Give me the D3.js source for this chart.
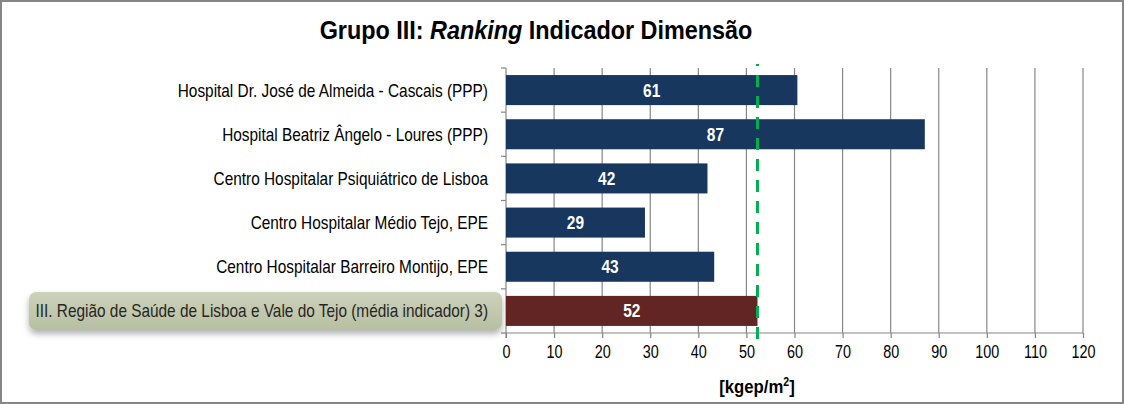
<!DOCTYPE html>
<html>
<head>
<meta charset="utf-8">
<script src="https://cdn.jsdelivr.net/npm/d3@7"></script>
<style>
html,body{margin:0;padding:0;background:#fff;}
svg{display:block;}
text{font-family:"Liberation Sans Narrow","Arial Narrow","Liberation Sans",Arial,sans-serif;}
</style>
</head>
<body>
<script>
const categories = [
  "Hospital Dr. José de Almeida - Cascais (PPP)",
  "Hospital Beatriz Ângelo - Loures (PPP)",
  "Centro Hospitalar Psiquiátrico de Lisboa",
  "Centro Hospitalar Médio Tejo, EPE",
  "Centro Hospitalar Barreiro Montijo, EPE",
  "III. Região de Saúde de Lisboa e Vale do Tejo (média indicador) 3)"
];
const values = [60.6, 87.1, 41.9, 28.9, 43.3, 52.3];
const valueLabels = ["61", "87", "42", "29", "43", "52"];
const averageValue = 52.3;
const xTicks = [0,10,20,30,40,50,60,70,80,90,100,110,120];
const titleParts = ["Grupo III: ", "Ranking", " Indicador Dimensão"];
const axisTitle = ["[kgep/m", "2", "]"];

(function(){
const W = 1124, H = 404;
const pL = 506, pR = 1083, pT = 68, pB = 333;

// horizontal condensing to mimic a narrow typeface
function condense(sel, k){
  sel.each(function(){
    const el = d3.select(this);
    const tx = +el.attr("x") || 0, ty = +el.attr("y") || 0;
    el.attr("transform", `translate(${tx},${ty}) scale(${k},1) translate(${-tx},${-ty})`);
  });
}

const svg = d3.select("body").append("svg").attr("width", W).attr("height", H);

const defs = svg.append("defs");
const grad = defs.append("linearGradient").attr("id","lblGrad").attr("x1",0).attr("y1",0).attr("x2",0).attr("y2",1);
grad.append("stop").attr("offset","0%").attr("stop-color","#cdd2bb");
grad.append("stop").attr("offset","100%").attr("stop-color","#b7bfa2");
const f = defs.append("filter").attr("id","shadow").attr("x","-5%").attr("y","-30%").attr("width","110%").attr("height","180%");
f.append("feDropShadow").attr("dx",0).attr("dy",4).attr("stdDeviation",3).attr("flood-color","#000").attr("flood-opacity",0.3);

// border
svg.append("rect").attr("x",1).attr("y",1).attr("width",W-2).attr("height",H-2)
  .attr("fill","none").attr("stroke","#868686").attr("stroke-width",2);

const x = d3.scaleLinear().domain([0,120]).range([pL,pR]);
const y = d3.scaleBand().domain(categories).range([pT,pB]).paddingInner(0.32).paddingOuter(0.16);

// title
const t = svg.append("text").attr("x", 536).attr("y", 39).attr("text-anchor","middle")
  .style("font-size","26px").style("font-weight","bold").attr("fill","#000");
t.append("tspan").text(titleParts[0]);
t.append("tspan").style("font-style","italic").text(titleParts[1]);
t.append("tspan").text(titleParts[2]);
condense(t, 0.9);

// grid lines
svg.append("g").selectAll("line").data(xTicks.slice(1)).join("line")
  .attr("x1", d=>x(d)).attr("x2", d=>x(d)).attr("y1", pT).attr("y2", pB)
  .attr("stroke","#868686").attr("stroke-width",1.2);

// x axis
const xAxis = svg.append("g").attr("transform",`translate(0,${pB})`)
  .call(d3.axisBottom(x).tickValues(xTicks).tickSize(5).tickPadding(7).tickFormat(d3.format("d")));
xAxis.attr("font-family",null);
xAxis.select(".domain").attr("stroke","#868686").attr("stroke-width",1.2).attr("d",`M${pL},0H${pR}`);
xAxis.selectAll(".tick line").attr("stroke","#868686").attr("stroke-width",1.2);
const tickTexts = xAxis.selectAll(".tick text").style("font-size","18px").attr("fill","#000");
condense(tickTexts, 0.8);

// y axis line with boundary ticks
const yg = svg.append("g");
yg.append("line").attr("x1",pL).attr("x2",pL).attr("y1",pT).attr("y2",pB+5).attr("stroke","#868686").attr("stroke-width",1.2);
const bounds = d3.range(categories.length+1).map(i => pT + i*y.step());
yg.selectAll("line.b").data(bounds).join("line").attr("class","b")
  .attr("x1",pL-5).attr("x2",pL).attr("y1",d=>d).attr("y2",d=>d)
  .attr("stroke","#868686").attr("stroke-width",1.2);

// highlighted label box for last category
const last = categories[categories.length-1];
svg.append("rect").attr("x",29).attr("y",y(last)+y.bandwidth()/2-19).attr("width",473).attr("height",38)
  .attr("rx",7).attr("fill","url(#lblGrad)").attr("filter","url(#shadow)");

// category labels
const catTexts = svg.append("g").selectAll("text").data(categories).join("text")
  .attr("x", 488).attr("y", d=>y(d)+y.bandwidth()/2).attr("dy","0.36em")
  .attr("text-anchor","end").style("font-size","18px")
  .attr("fill", (d,i)=> i===categories.length-1 ? "#262626" : "#000")
  .text(d=>d);
condense(catTexts, 0.855);

// bars
svg.append("g").selectAll("rect").data(values).join("rect")
  .attr("x", x(0)).attr("y", (d,i)=>y(categories[i]))
  .attr("width", d=>x(d)-x(0)).attr("height", y.bandwidth())
  .attr("fill", (d,i)=> i===categories.length-1 ? "#632523" : "#17375e");

// value labels
const valTexts = svg.append("g").selectAll("text").data(values).join("text")
  .attr("x", d=>(x(0)+x(d))/2).attr("y", (d,i)=>y(categories[i])+y.bandwidth()/2).attr("dy","0.36em")
  .attr("text-anchor","middle").style("font-size","18px").style("font-weight","bold").attr("fill","#fff")
  .text((d,i)=>valueLabels[i]);
condense(valTexts, 0.86);

// average dashed line
svg.append("line").attr("x1",x(averageValue)).attr("x2",x(averageValue))
  .attr("y1",pT-4).attr("y2",pB+6)
  .attr("stroke","#00b050").attr("stroke-width",3)
  .attr("stroke-dasharray","12,9").attr("stroke-dashoffset",10);

// axis title
const at = svg.append("text").attr("x",757).attr("y",393).attr("text-anchor","middle")
  .style("font-size","19px").style("font-weight","bold").attr("fill","#000");
at.append("tspan").text(axisTitle[0]);
at.append("tspan").attr("dy",-7).style("font-size","12px").text(axisTitle[1]);
at.append("tspan").attr("dy",7).text(axisTitle[2]);
condense(at, 0.88);
})();
</script>
</body>
</html>
